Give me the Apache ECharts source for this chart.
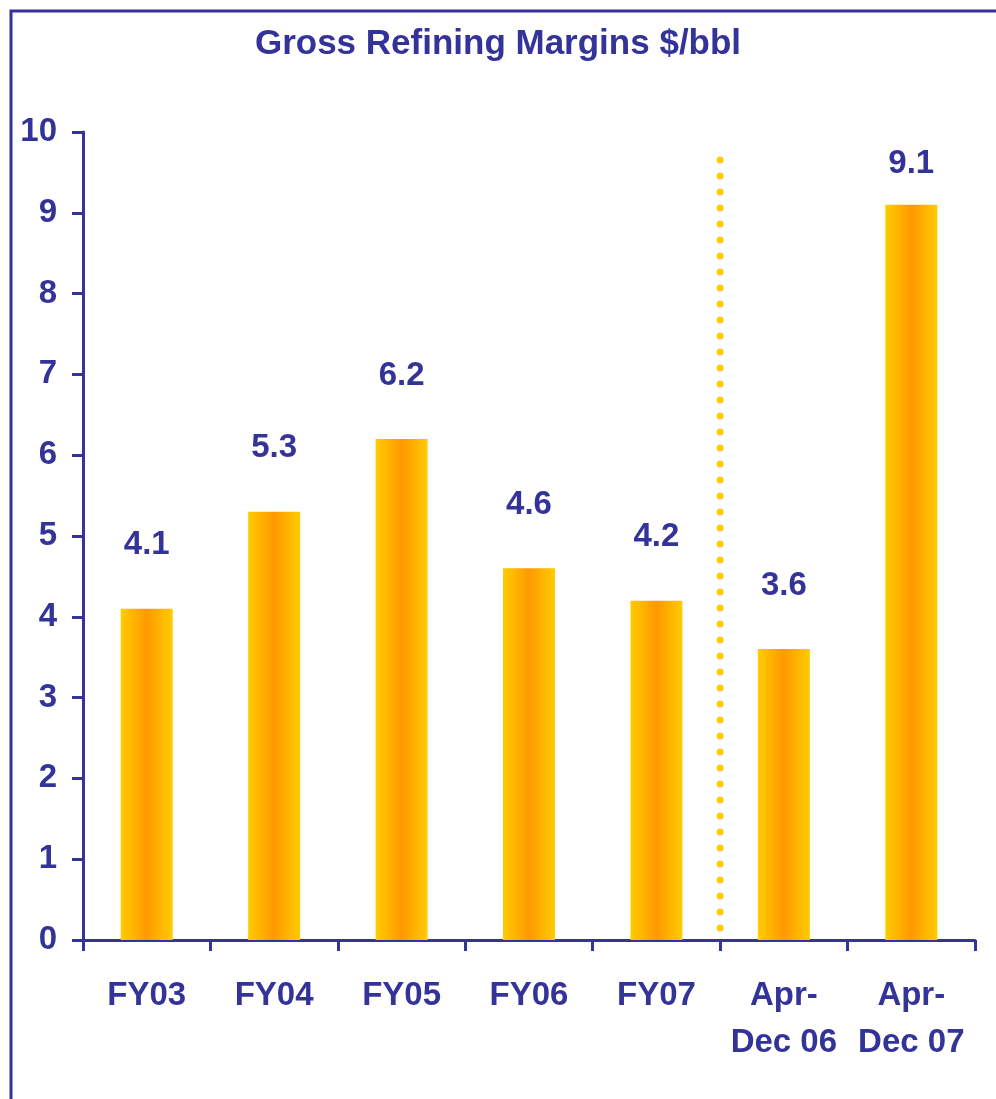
<!DOCTYPE html>
<html>
<head>
<meta charset="utf-8">
<script src="https://cdn.jsdelivr.net/npm/echarts@6/dist/echarts.min.js"></script>
<style>
  html, body { margin: 0; padding: 0; background: #fff; }
  #main { width: 996px; height: 1099px; }
</style>
</head>
<body>
<div id="main"></div>
<script>
var categories = ['FY03', 'FY04', 'FY05', 'FY06', 'FY07', 'Apr-\nDec 06', 'Apr-\nDec 07'];
var margins = [4.1, 5.3, 6.2, 4.6, 4.2, 3.6, 9.1];
// dotted divider between FY07 and the Apr-Dec columns (position in category units, y range)
var dividerX = 5;
var dividerY = [0.15, 9.72];

var navy = '#333399';
var font = 'Liberation Sans, Arial';
var myChart = echarts.init(document.getElementById('main'));

var barColor = new echarts.graphic.LinearGradient(0, 0, 1, 0, [
	{ offset: 0, color: '#FFCC00' },
	{ offset: 0.5, color: '#FF9900' },
	{ offset: 1, color: '#FFCC00' }
]);

// the tallest bar's label sits closer to its bar (near the top of the plot)
var barData = margins.map(function (v) {
	return v > 9 ? { value: v, label: { distance: 24 } } : v;
});

var option = {
	animation: false,
	title: {
		text: 'Gross Refining Margins $/bbl',
		left: 'center',
		top: 22,
		textStyle: { color: navy, fontSize: 35, fontWeight: 'bold', fontFamily: font }
	},
	graphic: [{
		type: 'polyline',
		shape: { points: [[11, 1099], [11, 11], [996, 11]] },
		style: { stroke: navy, lineWidth: 3, fill: null }
	}],
	grid: { left: 83, right: 21, top: 132, bottom: 159 },
	xAxis: [{
		type: 'category',
		data: categories,
		axisLine: { lineStyle: { color: navy, width: 3 } },
		axisTick: { show: true, length: 11, lineStyle: { color: navy, width: 3 } },
		axisLabel: {
			color: navy, fontSize: 33, fontWeight: 'bold', fontFamily: font,
			margin: 32, lineHeight: 47, interval: 0
		}
	}, {
		type: 'value',
		min: 0, max: 7,
		show: false
	}],
	yAxis: {
		type: 'value',
		min: 0, max: 10, interval: 1,
		axisLine: { show: true, lineStyle: { color: navy, width: 3 } },
		axisTick: { show: true, length: 11, lineStyle: { color: navy, width: 3 } },
		splitLine: { show: false },
		axisLabel: { color: navy, fontSize: 33, fontWeight: 'bold', fontFamily: font, margin: 26 }
	},
	series: [{
		type: 'bar',
		data: barData,
		barWidth: 52,
		itemStyle: { color: barColor },
		label: {
			show: true, position: 'top', distance: 47,
			color: navy, fontSize: 33, fontWeight: 'bold', fontFamily: font,
			formatter: function (p) { return p.value.toFixed(1); }
		}
	}, {
		type: 'line',
		xAxisIndex: 1,
		data: [[dividerX, dividerY[0]], [dividerX, dividerY[1]]],
		symbol: 'none',
		lineStyle: { color: '#FFCC00', width: 7, type: [0, 16], cap: 'round' },
		silent: true
	}]
};

myChart.setOption(option);
</script>
</body>
</html>
